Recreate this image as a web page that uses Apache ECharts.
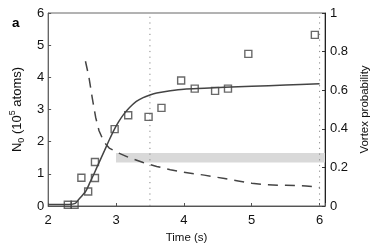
<!DOCTYPE html>
<html>
<head>
<meta charset="utf-8">
<script src="https://cdn.jsdelivr.net/npm/echarts@6/dist/echarts.min.js"></script>
<style>
html,body{margin:0;padding:0;background:#fff;}
#c{width:379px;height:249px;}
</style>
</head>
<body>
<div id="c"></div>
<script>
// Atom number N0 (1e5 atoms) measurements: [time s, N0]
var squareTimes = [2.29, 2.39, 2.49, 2.59, 2.69, 2.69, 2.98, 3.18, 3.48, 3.67, 3.96, 4.16, 4.46, 4.65, 4.95, 5.93];
var squareN0    = [0.04, 0.04, 0.88, 0.45, 0.87, 1.37, 2.39, 2.82, 2.77, 3.05, 3.90, 3.65, 3.58, 3.65, 4.73, 5.32];

// Solid fit curve (left axis)
var fitTimes = [2.0, 2.3, 2.4, 2.45, 2.5, 2.56, 2.62, 2.68, 2.75, 2.83, 2.9, 2.97, 3.04, 3.11, 3.2, 3.3, 3.4, 3.5, 3.6, 3.8, 4.0, 4.3, 4.6, 5.0, 5.5, 6.0];
var fitN0    = [0.05, 0.05, 0.08, 0.2, 0.32, 0.48, 0.75, 1.02, 1.35, 1.72, 2.05, 2.36, 2.62, 2.84, 3.06, 3.25, 3.37, 3.45, 3.51, 3.58, 3.63, 3.66, 3.69, 3.72, 3.76, 3.80];

// Dashed vortex probability curve (right axis)
var vortexTimes = [2.55, 2.6, 2.65, 2.7, 2.75, 2.8, 2.85, 2.9, 2.97, 3.0, 3.2, 3.4, 3.6, 3.8, 4.0, 4.3, 4.6, 4.8, 5.0, 5.2, 5.5, 5.8, 6.0];
var vortexProb  = [0.75, 0.67, 0.56, 0.46, 0.39, 0.35, 0.32, 0.30, 0.287, 0.28, 0.25, 0.225, 0.205, 0.188, 0.175, 0.16, 0.142, 0.13, 0.118, 0.11, 0.107, 0.104, 0.096];

// Shaded band (right axis): from time 3 to edge, probability range
var bandStart = 3.0;
var bandProb = [0.225, 0.275];

// Vertical dotted markers (time)
var markerTimes = [3.5, 6.0];

var xTicks = [2, 3, 4, 5, 6];
var leftTicks = [0, 1, 2, 3, 4, 5, 6];
var rightTicks = [0, 0.2, 0.4, 0.6, 0.8, 1];

var xMax = 6.08;
var FONT = '"Liberation Sans", Arial, sans-serif';
var INK = '#444';

function zip(a, b){ return a.map(function(v,i){ return [v, b[i]]; }); }

var series = [];
markerTimes.forEach(function(t){
  series.push({
    type:'line', xAxisIndex:0, yAxisIndex:0, silent:true, symbol:'none',
    data:[[t, leftTicks[0]], [t, leftTicks[leftTicks.length-1]]],
    lineStyle:{color:'#888', width:1, type:[1.2,4.5]}, z:1
  });
});
series.push({
  type:'line', xAxisIndex:0, yAxisIndex:1, symbol:'none', silent:true,
  data: zip(vortexTimes, vortexProb),
  lineStyle:{color:INK, width:1.5, type:[10,7]}, z:3,
  markArea:{
    silent:true,
    itemStyle:{color:'#d9d9d9'},
    data:[[{coord:[bandStart, bandProb[1]]},{coord:[xMax, bandProb[0]]}]]
  }
});
series.push({
  type:'line', xAxisIndex:0, yAxisIndex:0, symbol:'none', silent:true, smooth:0.3,
  data: zip(fitTimes, fitN0),
  lineStyle:{color:INK, width:1.5}, z:4
});
series.push({
  type:'scatter', xAxisIndex:0, yAxisIndex:0, symbol:'rect', symbolSize:7,
  data: zip(squareTimes, squareN0),
  itemStyle:{color:'rgba(0,0,0,0)', borderColor:INK, borderWidth:1.4}, z:5
});

var chart = echarts.init(document.getElementById('c'), null, {renderer:'canvas'});
chart.setOption({
  animation:false,
  backgroundColor:'#fff',
  title:{text:'a', left:12, top:16, padding:0, textStyle:{fontFamily:FONT, fontWeight:'bold', fontSize:13.5, color:'#000'}},
  grid:{left:46, right:49, top:13, bottom:39, show:true, borderColor:'#666', borderWidth:1},
  xAxis:{
    type:'value', min:xTicks[0], max:xMax, interval:1,
    name:'Time (s)', nameLocation:'middle', nameGap:26,
    nameTextStyle:{fontFamily:FONT, fontSize:11.5, color:'#111'},
    axisLine:{lineStyle:{color:'#555'}},
    axisTick:{inside:true, length:3, lineStyle:{color:'#555'}},
    axisLabel:{fontFamily:FONT, fontSize:13, color:'#111', margin:8,
      formatter:function(v){ return xTicks.indexOf(v) >= 0 ? String(v) : ''; }},
    splitLine:{show:false}
  },
  yAxis:[{
    type:'value', min:0, max:6, interval:1, position:'left',
    name:'{n|N}{sub|0}{n| (10}{sup|5}{n| atoms)}', nameLocation:'middle', nameGap:17, nameRotate:90,
    nameTextStyle:{fontFamily:FONT, fontSize:13, color:'#111',
      rich:{
        n:{fontFamily:FONT, fontSize:13, color:'#111', lineHeight:18, verticalAlign:'middle'},
        sub:{fontFamily:FONT, fontSize:9, color:'#111', lineHeight:18, verticalAlign:'bottom'},
        sup:{fontFamily:FONT, fontSize:9, color:'#111', lineHeight:18, verticalAlign:'top'}
      }},
    axisLine:{show:true, lineStyle:{color:'#666'}},
    axisTick:{show:true, inside:true, length:3, lineStyle:{color:'#555'}},
    axisLabel:{fontFamily:FONT, fontSize:13, color:'#111', margin:4},
    splitLine:{show:false}
  },{
    type:'value', min:0, max:1, interval:0.2, position:'right',
    name:'Vortex probability', nameLocation:'middle', nameGap:32, nameRotate:90,
    nameTextStyle:{fontFamily:FONT, fontSize:11.5, color:'#111'},
    axisLine:{show:true, lineStyle:{color:'#222'}},
    axisTick:{show:true, inside:true, length:3, lineStyle:{color:'#333'}},
    axisLabel:{fontFamily:FONT, fontSize:13, color:'#111', margin:5,
      formatter:function(v){ return String(Math.round(v*10)/10); }},
    splitLine:{show:false}
  }],
  series: series
});
</script>
</body>
</html>
